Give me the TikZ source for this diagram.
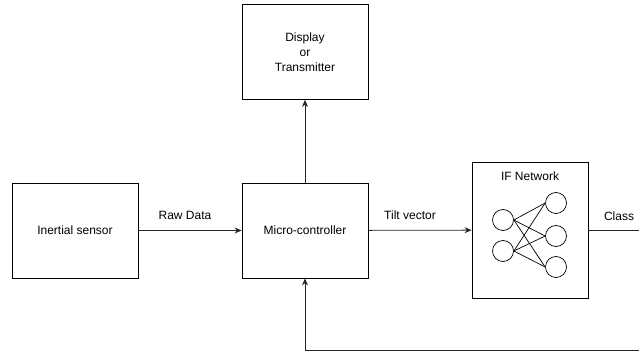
\documentclass[tikz,border=0pt]{standalone}
\usepackage{fontspec}
\setmainfont{Liberation Sans}
\usetikzlibrary{positioning,arrows.meta}

\begin{document}
\begin{tikzpicture}[
  x=1pt, y=-1pt,
  block/.style={
    draw,
    line width=0.8pt,
    minimum width=126pt,
    minimum height=95pt,
    align=center,
    font=\fontsize{12}{15}\selectfont,
    inner sep=0pt,
  },
  neuron/.style={draw, circle, line width=0.7pt, minimum size=21pt, inner sep=0pt},
  arr/.style={-{Stealth[length=7pt,width=6pt]}, line width=0.8pt, black!85},
  wire/.style={line width=0.8pt, black!85},
  note/.style={font=\fontsize{12}{14}\selectfont},
]
  \useasboundingbox (0,0) rectangle (639,352);

  \node[block] (sensor) at (75,230.5) {Inertial sensor};
  \node[block] (mcu) at (305,230.5) {Micro-controller};
  \node[block] (disp) at (305,52) {Display\\or\\Transmitter};
  \node[block, minimum width=116pt, minimum height=136pt] (ifnet) at (530,230) {};
  \node[note] (iftitle) at (530,176) {IF Network};

  % network inside
  \node[neuron] (in1) at (503,220) {};
  \node[neuron] (in2) at (503,251) {};
  \node[neuron] (out1) at (556,203) {};
  \node[neuron] (out2) at (556,236) {};
  \node[neuron] (out3) at (556,267) {};
  \foreach \i in {in1,in2}
    \foreach \o in {out1,out2,out3}
      \draw[line width=0.7pt] (\i.east) -- (\o.west);

  \node[note] (raw) at (185,215) {Raw Data};
  \node[note] (tilt) at (410,215) {Tilt vector};
  \node[note] (cls) at (619,216) {Class};

  \coordinate (edge1) at (646,230);
  \coordinate (edge2) at (646,350);

  \draw[arr] (sensor) -- (mcu);
  \draw[arr] (mcu) -- (ifnet);
  \draw[arr] (mcu) -- (disp);
  \draw[arr] (ifnet.east) -- (edge1) -- (edge2) -| (mcu.south);
\end{tikzpicture}
\end{document}
